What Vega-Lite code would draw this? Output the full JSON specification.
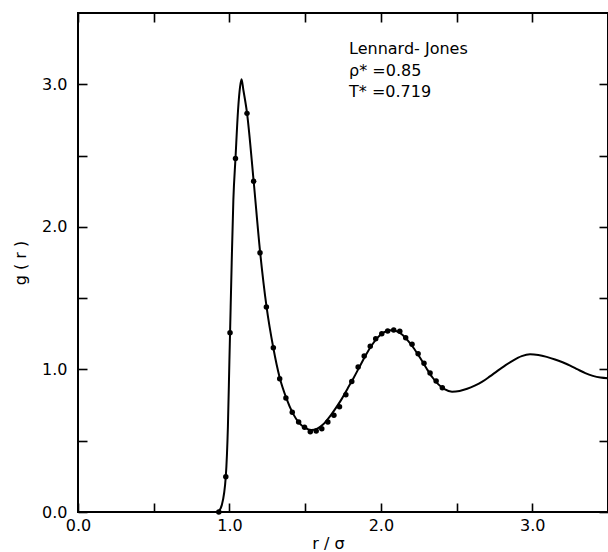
{
  "$schema": "https://vega.github.io/schema/vega-lite/v6.json",
  "width": 530,
  "height": 499,
  "autosize": "none",
  "padding": {"left": 78, "top": 13, "right": 0, "bottom": 40},
  "background": "white",
  "config": {
    "view": {"stroke": "black", "strokeWidth": 2},
    "font": "DejaVu Sans",
    "axis": {
      "domain": false,
      "grid": false,
      "tickColor": "black",
      "tickWidth": 1.6,
      "tickSize": -9,
      "labelColor": "black",
      "labelFont": "DejaVu Sans",
      "labelFontSize": 16,
      "titleFont": "DejaVu Sans",
      "titleFontSize": 16,
      "titleFontWeight": "normal",
      "titleColor": "black"
    }
  },
  "datasets": {
    "curve": [
      {"r": 0.925, "g": 0.0}, {"r": 0.95, "g": 0.05}, {"r": 0.976, "g": 0.25}, {"r": 0.99, "g": 0.6},
      {"r": 1.0, "g": 1.07}, {"r": 1.004, "g": 1.25}, {"r": 1.015, "g": 1.75}, {"r": 1.026, "g": 2.19},
      {"r": 1.04, "g": 2.48}, {"r": 1.057, "g": 2.82}, {"r": 1.07, "g": 2.98}, {"r": 1.08, "g": 3.035},
      {"r": 1.092, "g": 2.96}, {"r": 1.116, "g": 2.8}, {"r": 1.16, "g": 2.32}, {"r": 1.202, "g": 1.83},
      {"r": 1.245, "g": 1.44}, {"r": 1.29, "g": 1.15}, {"r": 1.33, "g": 0.95}, {"r": 1.375, "g": 0.8},
      {"r": 1.42, "g": 0.69}, {"r": 1.46, "g": 0.625}, {"r": 1.5, "g": 0.59}, {"r": 1.54, "g": 0.575},
      {"r": 1.58, "g": 0.585}, {"r": 1.62, "g": 0.615}, {"r": 1.66, "g": 0.665}, {"r": 1.7, "g": 0.725},
      {"r": 1.74, "g": 0.79}, {"r": 1.78, "g": 0.865}, {"r": 1.82, "g": 0.94}, {"r": 1.86, "g": 1.02},
      {"r": 1.9, "g": 1.1}, {"r": 1.94, "g": 1.17}, {"r": 1.98, "g": 1.225}, {"r": 2.02, "g": 1.26},
      {"r": 2.06, "g": 1.275}, {"r": 2.1, "g": 1.27}, {"r": 2.14, "g": 1.245}, {"r": 2.18, "g": 1.2},
      {"r": 2.22, "g": 1.145}, {"r": 2.26, "g": 1.08}, {"r": 2.3, "g": 1.01}, {"r": 2.34, "g": 0.945},
      {"r": 2.38, "g": 0.895}, {"r": 2.42, "g": 0.862}, {"r": 2.47, "g": 0.844}, {"r": 2.52, "g": 0.849},
      {"r": 2.57, "g": 0.864}, {"r": 2.62, "g": 0.886}, {"r": 2.67, "g": 0.914}, {"r": 2.72, "g": 0.951},
      {"r": 2.77, "g": 0.99}, {"r": 2.82, "g": 1.027}, {"r": 2.875, "g": 1.064}, {"r": 2.93, "g": 1.093},
      {"r": 2.985, "g": 1.106}, {"r": 3.04, "g": 1.101}, {"r": 3.095, "g": 1.088}, {"r": 3.15, "g": 1.07},
      {"r": 3.2, "g": 1.05}, {"r": 3.25, "g": 1.027}, {"r": 3.3, "g": 1.0}, {"r": 3.35, "g": 0.974},
      {"r": 3.4, "g": 0.955}, {"r": 3.45, "g": 0.943}, {"r": 3.5, "g": 0.938}
    ],
    "md": [
      {"r": 0.93, "g": 0.0}, {"r": 0.976, "g": 0.247}, {"r": 1.004, "g": 1.257}, {"r": 1.04, "g": 2.48},
      {"r": 1.116, "g": 2.796}, {"r": 1.16, "g": 2.32}, {"r": 1.202, "g": 1.818}, {"r": 1.244, "g": 1.438},
      {"r": 1.29, "g": 1.152}, {"r": 1.332, "g": 0.935}, {"r": 1.373, "g": 0.8}, {"r": 1.415, "g": 0.7},
      {"r": 1.457, "g": 0.631}, {"r": 1.496, "g": 0.594}, {"r": 1.534, "g": 0.563}, {"r": 1.573, "g": 0.568},
      {"r": 1.61, "g": 0.584}, {"r": 1.65, "g": 0.631}, {"r": 1.69, "g": 0.678}, {"r": 1.727, "g": 0.738},
      {"r": 1.769, "g": 0.822}, {"r": 1.808, "g": 0.916}, {"r": 1.85, "g": 1.017}, {"r": 1.89, "g": 1.094},
      {"r": 1.93, "g": 1.162}, {"r": 1.966, "g": 1.215}, {"r": 2.006, "g": 1.25}, {"r": 2.045, "g": 1.269},
      {"r": 2.085, "g": 1.276}, {"r": 2.125, "g": 1.267}, {"r": 2.164, "g": 1.222}, {"r": 2.206, "g": 1.176},
      {"r": 2.246, "g": 1.11}, {"r": 2.285, "g": 1.043}, {"r": 2.325, "g": 0.975}, {"r": 2.365, "g": 0.919},
      {"r": 2.406, "g": 0.872}
    ],
    "notes": [
      {"r": 1.79, "g": 3.247, "label": "Lennard- Jones"},
      {"r": 1.79, "g": 3.093, "label": "ρ* =0.85"},
      {"r": 1.79, "g": 2.945, "label": "T* =0.719"}
    ]
  },
  "layer": [
    {
      "data": {"name": "curve"},
      "mark": {"type": "line", "color": "black", "strokeWidth": 2, "interpolate": "monotone"},
      "encoding": {
        "x": {"field": "r", "type": "quantitative", "scale": {"domain": [0, 3.5], "nice": false, "zero": false},
          "axis": {"orient": "bottom", "title": "r / σ", "values": [0, 0.5, 1, 1.5, 2, 2.5, 3],
            "labelExpr": "datum.value % 1 === 0 ? format(datum.value, '.1f') : ''",
            "labelPadding": 14, "titlePadding": 2, "titleX": 250, "labelFlush": false}},
        "y": {"field": "g", "type": "quantitative", "scale": {"domain": [0, 3.5], "nice": false},
          "axis": {"orient": "left", "title": "g ( r )", "values": [0, 0.5, 1, 1.5, 2, 2.5, 3],
            "labelExpr": "datum.value % 1 === 0 ? format(datum.value, '.1f') : ''",
            "labelPadding": 20, "titlePadding": 13, "labelFlush": false}}
      }
    },
    {
      "data": {"name": "md"},
      "mark": {"type": "circle", "color": "black", "opacity": 1, "size": 30},
      "encoding": {
        "x": {"field": "r", "type": "quantitative",
          "axis": {"orient": "top", "title": null, "labels": false, "values": [0, 0.5, 1, 1.5, 2, 2.5, 3]}},
        "y": {"field": "g", "type": "quantitative",
          "axis": {"orient": "right", "title": null, "labels": false, "values": [0, 0.5, 1, 1.5, 2, 2.5, 3]}}
      }
    },
    {
      "data": {"name": "notes"},
      "mark": {"type": "text", "align": "left", "baseline": "middle", "fontSize": 16, "color": "black", "font": "DejaVu Sans"},
      "encoding": {
        "x": {"field": "r", "type": "quantitative", "axis": null},
        "y": {"field": "g", "type": "quantitative", "axis": null},
        "text": {"field": "label"}
      }
    }
  ],
  "resolve": {"axis": {"x": "independent", "y": "independent"}}
}
